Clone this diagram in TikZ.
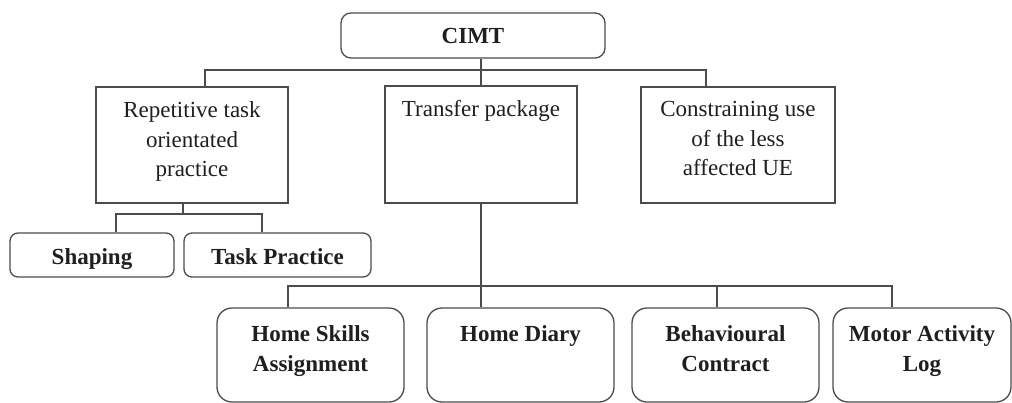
\documentclass[tikz,border=0pt]{standalone}
\usepackage{fontspec}
\setmainfont{Liberation Serif}
\begin{document}
\begin{tikzpicture}[x=1pt,y=-1pt,
  line/.style={draw=black!70,line width=1.3pt},
  rbox/.style={line,rounded corners=#1,inner sep=0pt},
  rbox/.default=9pt,
  sbox/.style={line,inner sep=0pt},
  txt/.style={inner sep=0pt,align=center,text=black!88,font=\fontsize{23}{29.5}\selectfont},
  btxt/.style={txt,font=\fontsize{23}{29.5}\selectfont\bfseries}]
\clip (0,0) rectangle (1012,402);
\fill[white] (0,0) rectangle (1012,402);
% boxes
\node[rbox=10pt,minimum width=264pt,minimum height=45pt] (cimt) at (473,35.5) {};
\node[btxt,anchor=base] (cimtt) at (473,43) {CIMT};
\node[sbox,minimum width=192pt,minimum height=116pt] (rep) at (192,145) {};
\node[txt,anchor=north] (rept) at ([yshift=-15pt]rep.north) {Repetitive task\\orientated\\practice};
\node[sbox,minimum width=192pt,minimum height=117pt] (tp) at (481,144.5) {};
\node[txt,anchor=north] (tpt) at ([yshift=-15pt]tp.north) {Transfer package};
\node[sbox,minimum width=194pt,minimum height=116pt] (con) at (738,145) {};
\node[txt,anchor=north] (cont) at ([yshift=-15pt]con.north) {Constraining use\\of the less\\affected UE};
\node[rbox=8pt,minimum width=164pt,minimum height=44pt] (sh) at (92,255) {};
\node[btxt,anchor=base] (sht) at (92,264) {Shaping};
\node[rbox=8pt,minimum width=187pt,minimum height=44pt] (tpr) at (277.5,255) {};
\node[btxt,anchor=base] (tprt) at (277.5,264) {Task Practice};
\node[rbox=15pt,minimum width=187pt,minimum height=94pt] (hs) at (310.5,355) {};
\node[btxt,anchor=north] (hst) at ([yshift=-18pt]hs.north) {Home Skills\\Assignment};
\node[rbox=15pt,minimum width=187pt,minimum height=94pt] (hd) at (520.5,355) {};
\node[btxt,anchor=north] (hdt) at ([yshift=-18pt]hd.north) {Home Diary};
\node[rbox=15pt,minimum width=187pt,minimum height=94pt] (bc) at (725.5,355) {};
\node[btxt,anchor=north] (bct) at ([yshift=-18pt]bc.north) {Behavioural\\Contract};
\node[rbox=15pt,minimum width=178pt,minimum height=94pt] (ma) at (922,355) {};
\node[btxt,anchor=north] (mat) at ([yshift=-18pt]ma.north) {Motor Activity\\Log};
% junction coordinates
\coordinate (j0) at (481,70);
\coordinate (b1) at (205,70);
\coordinate (b3) at (706,70);
\coordinate (j1) at (183,214);
\coordinate (s1) at (116,214);
\coordinate (s2) at (262,214);
\coordinate (j2) at (481,286);
\coordinate (h1) at (288,286);
\coordinate (h3) at (717,286);
\coordinate (h4) at (892,286);
% connectors
\draw[line] (cimt.south -| j0) -- (tp.north);
\draw[line] (rep.north -| b1) -- (b1) -- (b3) -- (con.north -| b3);
\draw[line] (rep.south -| j1) -- (j1);
\draw[line] (sh.north -| s1) -- (s1) -- (s2) -- (tpr.north -| s2);
\draw[line] (tp.south) -- (hd.north -| tp.south);
\draw[line] (hs.north -| h1) -- (h1) -- (h4) -- (ma.north -| h4);
\draw[line] (h3) -- (bc.north -| h3);
\end{tikzpicture}
\end{document}
